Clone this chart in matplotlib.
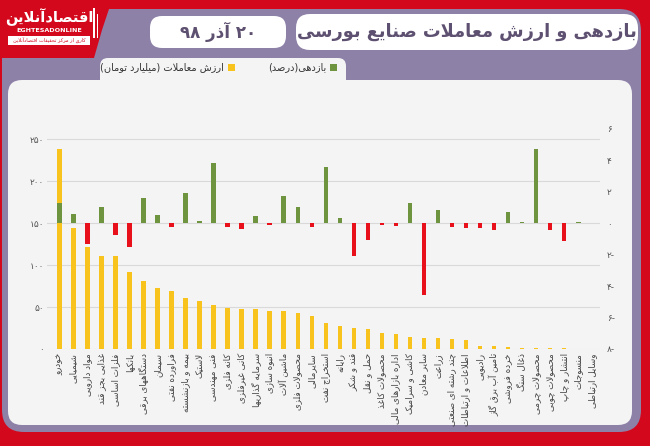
import re
import matplotlib
matplotlib.use("Agg")
import matplotlib.pyplot as plt
from matplotlib.patches import FancyBboxPatch, Rectangle, Polygon

# ---------------- data ----------------
categories = [
    "خودرو", "شیمیایی", "مواد دارویی", "غذایی بجز قند", "فلزات اساسی", "بانکها",
    "دستگاههای برقی", "سیمان", "فراورده نفتی", "بیمه و بازنشسته", "لاستیک",
    "فنی مهندسی", "کانه فلزی", "کانی غیرفلزی", "سرمایه گذاریها", "انبوه سازی",
    "ماشین آلات", "محصولات فلزی", "سایرمالی", "استخراج نفت", "رایانه",
    "قند و شکر", "حمل و نقل", "محصولات کاغذ", "اداره بازارهای مالی",
    "کاشی و سرامیک", "سایر معادن", "زراعت", "چند رشته ای صنعتی",
    "اطلاعات و ارتباطات", "رادیویی", "تامین آب برق گاز", "خرده فروشی",
    "ذغال سنگ", "محصولات چرمی", "محصولات چوبی", "انتشار و چاپ", "منسوجات",
    "وسایل ارتباطی",
]
trade_value = [237.7, 144.4, 121.8, 110.7, 110.7, 91.7, 81.0, 72.2, 69.4, 60.3,
               56.7, 52.4, 48.4, 48.0, 47.2, 45.2, 45.2, 42.9, 39.3, 31.3,
               27.8, 25.0, 23.8, 19.4, 17.5, 13.9, 13.1, 12.7, 11.9, 11.1,
               4.0, 4.0, 2.8, 1.6, 1.2, 1.2, 1.0, 0.3, 0.2]
returns_pct = [1.31, 0.59, -1.32, 1.06, -0.75, -1.53, 1.61, 0.55, -0.26, 1.95,
               0.13, 3.82, -0.26, -0.38, 0.46, -0.13, 1.76, 1.06, -0.26, 3.57,
               0.36, -2.06, -1.04, -0.10, -0.19, 1.31, -4.54, 0.87, -0.26, -0.30,
               -0.28, -0.40, 0.74, 0.08, 4.75, -0.40, -1.10, 0.08, 0.0]
left_ticks = [0, 50, 100, 150, 200, 250]
left_tick_labels = ["۰", "۵۰", "۱۰۰", "۱۵۰", "۲۰۰", "۲۵۰"]
right_ticks = [-8, -6, -4, -2, 0, 2, 4, 6]
right_tick_labels = ["۸-", "۶-", "۴-", "۲-", "۰", "۲", "۴", "۶"]
title = "بازدهی و ارزش معاملات صنایع بورسی"
date_text = "۲۰ آذر ۹۸"
legend_return = "بازدهی(درصد)"
legend_value = "ارزش معاملات (میلیارد تومان)"

# ---------------- simple Persian shaping ----------------
_TABLE = [('ء', 0xFE80, 1), ('آ', 0xFE81, 2), ('أ', 0xFE83, 2), ('ؤ', 0xFE85, 2),
          ('إ', 0xFE87, 2), ('ئ', 0xFE89, 4), ('ا', 0xFE8D, 2), ('ب', 0xFE8F, 4),
          ('ة', 0xFE93, 2), ('ت', 0xFE95, 4), ('ث', 0xFE99, 4), ('ج', 0xFE9D, 4),
          ('ح', 0xFEA1, 4), ('خ', 0xFEA5, 4), ('د', 0xFEA9, 2), ('ذ', 0xFEAB, 2),
          ('ر', 0xFEAD, 2), ('ز', 0xFEAF, 2), ('س', 0xFEB1, 4), ('ش', 0xFEB5, 4),
          ('ص', 0xFEB9, 4), ('ض', 0xFEBD, 4), ('ط', 0xFEC1, 4), ('ظ', 0xFEC5, 4),
          ('ع', 0xFEC9, 4), ('غ', 0xFECD, 4), ('ف', 0xFED1, 4), ('ق', 0xFED5, 4),
          ('ك', 0xFED9, 4), ('ل', 0xFEDD, 4), ('م', 0xFEE1, 4), ('ن', 0xFEE5, 4),
          ('ه', 0xFEE9, 4), ('و', 0xFEED, 2), ('ى', 0xFEEF, 2), ('ي', 0xFEF1, 4),
          ('پ', 0xFB56, 4), ('چ', 0xFB7A, 4), ('ژ', 0xFB8A, 2), ('ک', 0xFB8E, 4),
          ('گ', 0xFB92, 4), ('ی', 0xFBFC, 4)]
F = {c: (b, n) for c, b, n in _TABLE}
LAM_ALEF = {'ا': 0xFEFB, 'آ': 0xFEF5, 'أ': 0xFEF7, 'إ': 0xFEF9}


def _shape(s):
    res = []
    i, n = 0, len(s)
    while i < n:
        c = s[i]
        if c not in F:
            res.append(c)
            i += 1
            continue
        prev = s[i - 1] if i > 0 else None
        cp = prev is not None and prev in F and F[prev][1] == 4
        if c == 'ل' and i + 1 < n and s[i + 1] in LAM_ALEF:
            res.append(chr(LAM_ALEF[s[i + 1]] + (1 if cp else 0)))
            i += 2
            continue
        nxt = s[i + 1] if i + 1 < n else None
        base, cnt = F[c]
        cn = cnt == 4 and nxt is not None and nxt in F and nxt != 'ء'
        if cp and cn:
            form = 3
        elif cp:
            form = 1
        elif cn:
            form = 2
        else:
            form = 0
        if cnt == 1:
            form = 0
        res.append(chr(base + form))
        i += 1
    return ''.join(res)


def fa(s):
    shaped = _shape(s)
    tokens = re.findall(r'[0-9۰-۹A-Za-z.]+|.', shaped)
    mirror = {'(': ')', ')': '('}
    return ''.join(mirror.get(t, t) for t in tokens[::-1])


plt.rcParams['font.family'] = ['DejaVu Sans']

# ---------------- figure & decoration ----------------
W, H = 650, 446
fig = plt.figure(figsize=(6.5, 4.46), dpi=100)
fig.patch.set_facecolor('#d3081d')

bg = fig.add_axes([0, 0, 1, 1])
bg.set_xlim(0, W)
bg.set_ylim(H, 0)
bg.axis('off')

RED = '#d3081d'
PURPLE = '#8e81a8'
CARD = '#f4f4f4'

# purple panel
bg.add_patch(FancyBboxPatch((2, 9), 639, 423, boxstyle="round,pad=0,rounding_size=22",
                            fc=PURPLE, ec='none'))
# logo red block
bg.add_patch(Polygon([(0, 0), (112, 0), (102, 30), (94, 58), (0, 58)], closed=True,
                     fc=RED, ec='none'))
# white card
bg.add_patch(FancyBboxPatch((8, 80), 624, 345, boxstyle="round,pad=0,rounding_size=14",
                            fc=CARD, ec='none'))
# legend tab
bg.add_patch(FancyBboxPatch((100, 58), 246, 30, boxstyle="round,pad=0,rounding_size=8",
                            fc=CARD, ec='none'))
# title boxes
bg.add_patch(FancyBboxPatch((296, 14), 342, 36, boxstyle="round,pad=0,rounding_size=14",
                            fc='white', ec='none'))
bg.add_patch(FancyBboxPatch((150, 16), 136, 32, boxstyle="round,pad=0,rounding_size=12",
                            fc='white', ec='none'))
bg.text(467, 32, fa(title), ha='center', va='center', fontsize=12.8,
        fontweight='bold', color='#5d5070')
bg.text(218, 32, fa(date_text), ha='center', va='center', fontsize=12,
        fontweight='bold', color='#5d5070')

# logo text
bg.text(49, 17, fa("اقتصادآنلاین"), ha='center', va='center', fontsize=10.5,
        fontweight='bold', color='white')
bg.text(49, 30, "EGHTESADONLINE", ha='center', va='center', fontsize=4.6,
        fontweight='bold', color='white')
bg.add_patch(Rectangle((8, 36), 82, 9, fc='white', ec='none'))
bg.text(49, 40.5, fa("کاری از مرکز تحقیقات اقتصادآنلاین"), ha='center', va='center',
        fontsize=3.6, color=RED)
bg.add_patch(Rectangle((93, 8), 1.5, 30, fc='white', ec='none'))
bg.add_patch(Rectangle((96.5, 14), 1.5, 24, fc='white', ec='none'))

# legend
GREEN = '#6f9440'
YELLOW = '#f7c31c'
REDBAR = '#e8111b'
bg.add_patch(Rectangle((330, 64), 7, 7, fc=GREEN, ec='none'))
bg.text(326, 67.5, fa(legend_return), ha='right', va='center', fontsize=7, color='#333333')
bg.add_patch(Rectangle((228, 64), 7, 7, fc=YELLOW, ec='none'))
bg.text(224, 67.5, fa(legend_value), ha='right', va='center', fontsize=7, color='#333333')

# ---------------- chart ----------------
ax = fig.add_axes([47 / W, 1 - 349 / H, 553 / W, 220 / H])
ax.set_facecolor('none')
x = list(range(len(categories)))
ax.bar(x, trade_value, width=0.32, color=YELLOW, zorder=2)
ax.set_ylim(0, 262)
ax.set_xlim(-0.88, 38.55)
ax.set_yticks(left_ticks)
ax.set_yticklabels(left_tick_labels)
ax.grid(axis='y', color='#d9d9d9', lw=0.8, zorder=0)
ax.set_axisbelow(True)
for sp in ax.spines.values():
    sp.set_visible(False)
ax.tick_params(axis='y', length=0, labelsize=6.5, colors='#555555', pad=2)
ax.set_xticks(x)
ax.set_xticklabels([fa(c) for c in categories], rotation=90, fontsize=6.3,
                   color='#444444', va='top', ha='center')
ax.tick_params(axis='x', length=0, pad=3)

ax2 = ax.twinx()
ax2.set_facecolor('none')
colors = [GREEN if v >= 0 else REDBAR for v in returns_pct]
ax2.bar(x, returns_pct, width=0.32, color=colors, zorder=3)
ax2.set_ylim(-8, 6)
ax2.set_yticks(right_ticks)
ax2.set_yticklabels(right_tick_labels)
for sp in ax2.spines.values():
    sp.set_visible(False)
ax2.tick_params(axis='y', length=0, labelsize=6.5, colors='#555555', pad=5)

fig.savefig('out.png', dpi=100, facecolor=fig.get_facecolor())
